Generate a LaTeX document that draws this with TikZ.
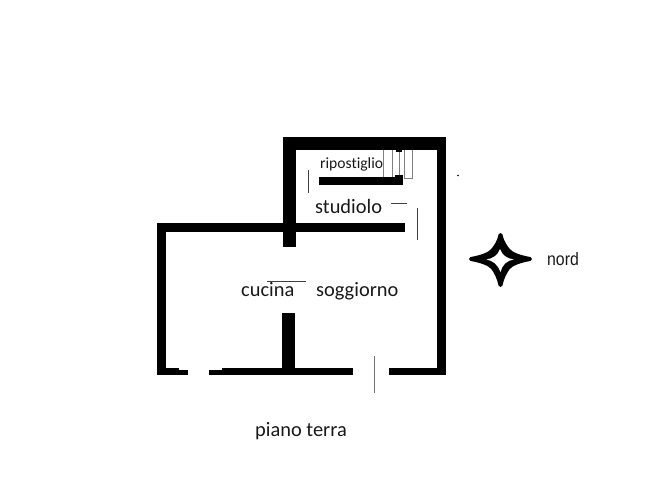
\documentclass[tikz,border=0pt]{standalone}
\usepackage{fontspec}
\setmainfont[Ligatures=CommonOff]{Carlito}
\newfontfamily\nordfont{Liberation Sans}
\tikzset{
  wall/.style={fill=black,draw=none},
  thin line/.style={draw=black!75,line width=0.9pt},
  door line/.style={draw=black!55,line width=1pt},
  stair/.style={draw=black!50,line width=0.8pt},
  label/.style={inner sep=0pt,anchor=base west,text=black!90},
}
\begin{document}
\begin{tikzpicture}[x=1pt,y=-1pt]
\useasboundingbox (0,0) rectangle (648,492);
% stairs
\draw[stair] (383,150) -- (383,177);
\draw[stair] (392,150) -- (392,177);
\draw[stair] (399,150) -- (399,177);
\draw[stair] (404,150) -- (404,178) -- (412,178) -- (412,150);
% walls
\fill[wall] (283,137) rectangle (446,150);
\fill[wall] (283,137) rectangle (296,247);
\fill[wall] (437,137) rectangle (446,375);
\fill[wall] (319,177) rectangle (403,185);
\fill[wall] (395,175) rectangle (403,185);
\fill[wall] (396,150) rectangle (402,152);
\fill[wall] (157,223) rectangle (405,232);
\fill[wall] (157,223) rectangle (166,375);
\fill[wall] (157,368) rectangle (179,375);
\fill[wall] (179,370) rectangle (188,375);
\fill[wall] (209,370) rectangle (222,375);
\fill[wall] (222,368) rectangle (353,375);
\fill[wall] (389,368) rectangle (446,375);
\fill[wall] (282,313) rectangle (295,368);
% thin lines
\draw[thin line] (308,170) -- (308,193);
\draw[thin line] (391,203) -- (407,203);
\draw[thin line] (417,208) -- (417,240);
\draw[thin line] (267,281) -- (306,281);
\draw[door line] (374,356) -- (374,393);
\fill[black] (458,175.5) circle (0.8);
% compass star
\draw[fill=black,draw=black,line width=4pt,line join=round]
  (471,259) .. controls (482,257) and (490,254) .. (493,250)
  .. controls (496,246) and (499,242) .. (500.5,235)
  .. controls (502,242) and (505,246) .. (508,250)
  .. controls (511,254) and (519,257) .. (530,259)
  .. controls (519,261) and (511,264) .. (508,268)
  .. controls (505,272) and (502,278) .. (500.5,285)
  .. controls (499,278) and (496,272) .. (493,268)
  .. controls (490,264) and (482,261) .. (471,259) -- cycle;
\fill[white]
  (486.5,259.5) .. controls (493,258.5) and (498,255) .. (500,249)
  .. controls (502,255) and (507,258.5) .. (513.5,259.5)
  .. controls (507,260.5) and (502,265) .. (500.5,272)
  .. controls (498,265) and (493,260.5) .. (486.5,259.5) -- cycle;
% labels
\node[label,font=\fontsize{15.6pt}{17pt}\selectfont] (rip) at (320,168) {ripostiglio};
\node[label,font=\fontsize{20.4pt}{22pt}\selectfont] (stu) at (315,213) {studiolo};
\node[label,font=\fontsize{20.4pt}{22pt}\selectfont] (cuc) at (241,296) {cucina};
\node[label,font=\fontsize{20.4pt}{22pt}\selectfont] (sog) at (316,296) {soggiorno};
\node[label,font=\fontsize{20.4pt}{22pt}\selectfont] (pia) at (255,436) {piano terra};
\node[label,xscale=0.88,font=\nordfont\fontsize{18pt}{20pt}\selectfont] (nor) at (547,265) {nord};
\end{tikzpicture}
\end{document}
